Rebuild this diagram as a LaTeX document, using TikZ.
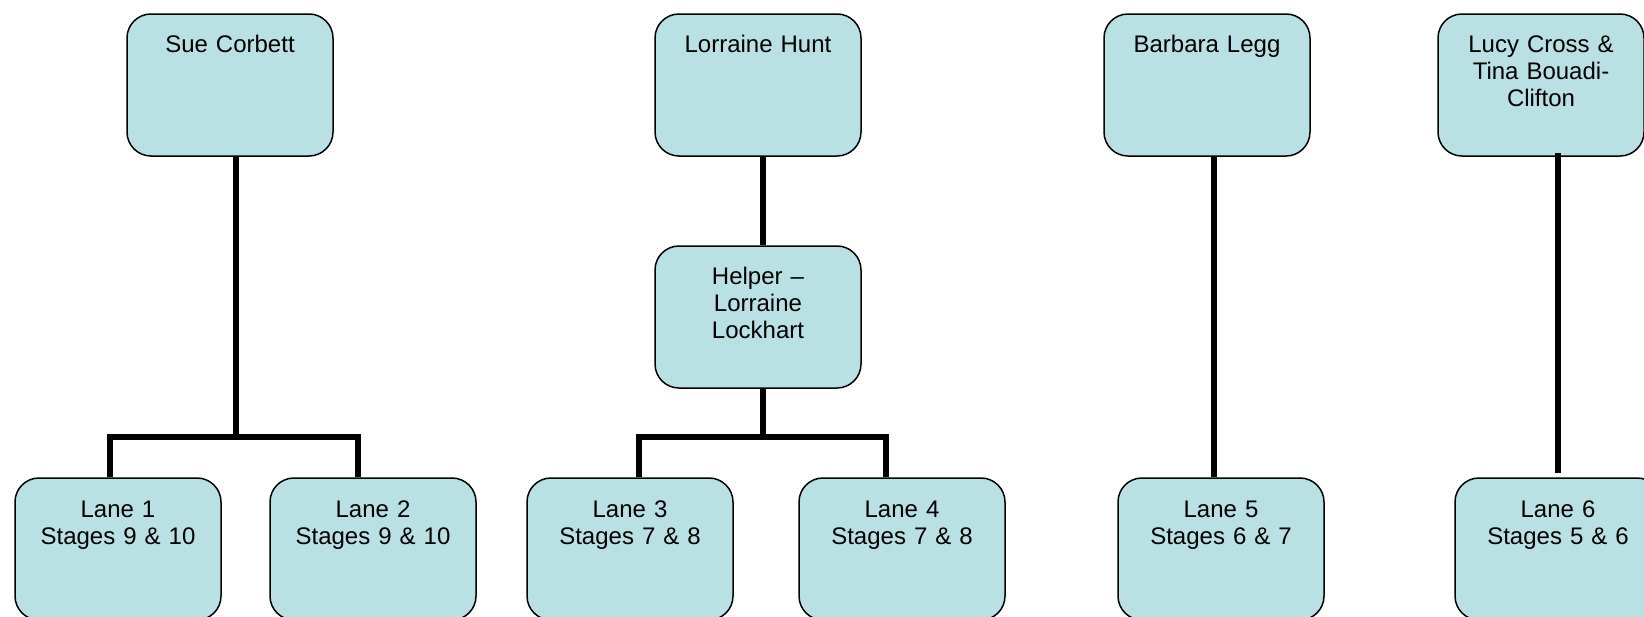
\documentclass[tikz,border=0pt]{standalone}
\usepackage{fontspec}
\setmainfont{Liberation Sans}
\usetikzlibrary{calc}
\definecolor{boxfill}{RGB}{185,224,227}
\begin{document}
\begin{tikzpicture}[x=1pt,y=-1pt,
  card/.style={draw=black, line width=1.5pt, fill=boxfill, rounded corners=24pt,
    minimum width=206pt, minimum height=142pt, inner sep=0pt},
  caption/.style={anchor=base, text width=200pt, align=center, inner sep=0pt,
    font=\fontsize{24}{27}\selectfont},
  link/.style={line width=6pt, line join=miter},
]
\useasboundingbox (0,0) rectangle (1644,616);

% top row
\node[card] (sue)   at (230,85)  {};
\node[card] (hunt)  at (758,85)  {};
\node[card] (legg)  at (1207,85) {};
\node[card] (cross) at (1541,85) {};
% helper
\node[card] (helper) at (758,317) {};
% lanes
\node[card] (lane1) at (118,549)  {};
\node[card] (lane2) at (373,549)  {};
\node[card] (lane3) at (630,549)  {};
\node[card] (lane4) at (902,549)  {};
\node[card] (lane5) at (1221,549) {};
\node[card] (lane6) at (1558,549) {};

% captions
\node[caption] (tsue)   at ([yshift=-39pt]sue.north)   {Sue Corbett};
\node[caption] (thunt)  at ([yshift=-39pt]hunt.north)  {Lorraine Hunt};
\node[caption] (tlegg)  at ([yshift=-39pt]legg.north)  {Barbara Legg};
\node[caption] (tcross) at ([yshift=-39pt]cross.north) {Lucy Cross \&\\Tina Bouadi-\\Clifton};
\node[caption] (thelp)  at ([yshift=-39pt]helper.north) {Helper –\\Lorraine\\Lockhart};
\node[caption] (tl1) at ([yshift=-40pt]lane1.north) {Lane 1\\Stages 9 \& 10};
\node[caption] (tl2) at ([yshift=-40pt]lane2.north) {Lane 2\\Stages 9 \& 10};
\node[caption] (tl3) at ([yshift=-40pt]lane3.north) {Lane 3\\Stages 7 \& 8};
\node[caption] (tl4) at ([yshift=-40pt]lane4.north) {Lane 4\\Stages 7 \& 8};
\node[caption] (tl5) at ([yshift=-40pt]lane5.north) {Lane 5\\Stages 6 \& 7};
\node[caption] (tl6) at ([yshift=-40pt]lane6.north) {Lane 6\\Stages 5 \& 6};

% bus level of the two branching groups
\coordinate (bus) at (0,437);

% Sue Corbett -> lanes 1 and 2
\draw[link] ([xshift=6pt]sue.south) -- ([xshift=6pt]sue.south |- bus);
\draw[link] ([xshift=-8pt]lane1.north) |- ([xshift=-15pt]lane2.north |- bus)
  -- ([xshift=-15pt]lane2.north);

% Lorraine Hunt -> helper -> lanes 3 and 4
\draw[link] ([xshift=5pt]hunt.south) -- ([xshift=5pt]helper.north);
\draw[link] ([xshift=5pt]helper.south) -- ([xshift=5pt]helper.south |- bus);
\draw[link] ([xshift=9pt]lane3.north) |- ([xshift=-16pt]lane4.north |- bus)
  -- ([xshift=-16pt]lane4.north);

% Barbara Legg -> lane 5
\draw[link] ([xshift=7pt]legg.south) -- ([xshift=7pt]legg.south |- lane5.north);

% Lucy Cross & Tina Bouadi-Clifton -> lane 6
\draw[link] ($(lane6.north |- cross.south)+(0,-4)$) -- ($(lane6.north)+(0,-4)$);
\end{tikzpicture}
\end{document}
